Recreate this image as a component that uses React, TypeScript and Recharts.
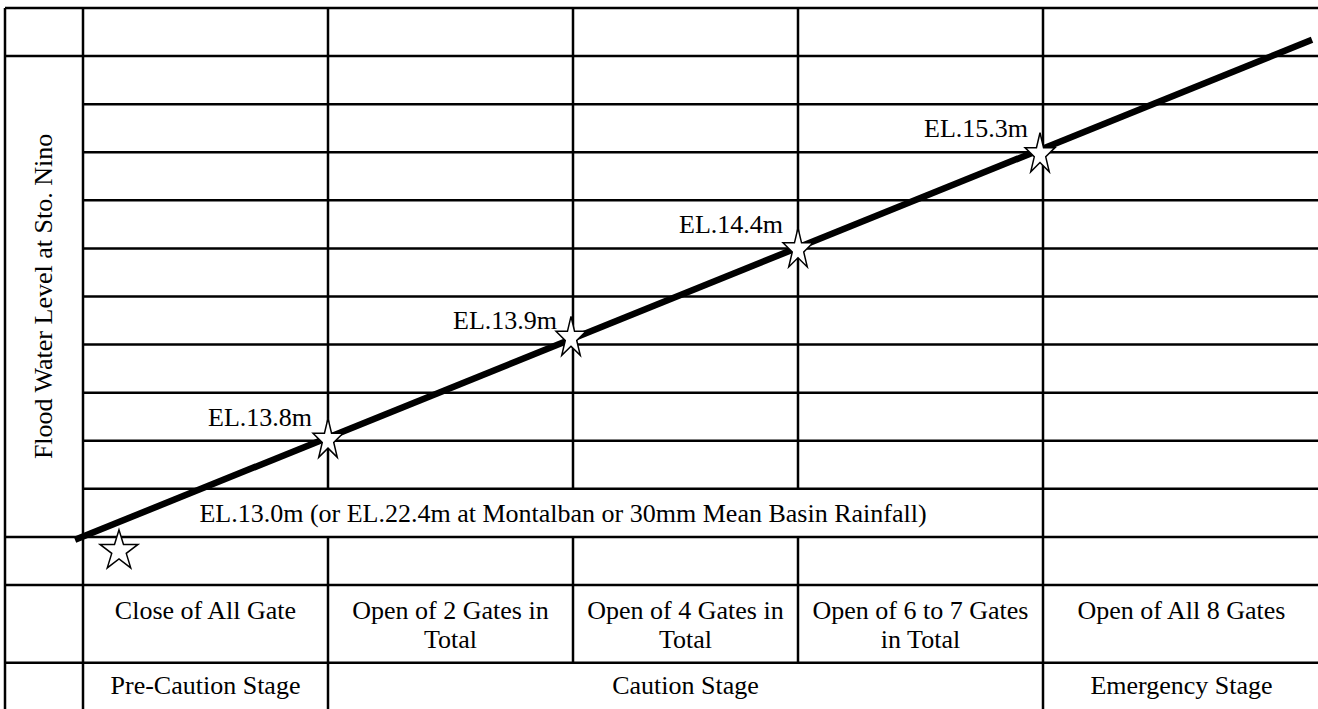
import React from 'react';
import { ComposedChart, XAxis, YAxis, Line, Scatter, ReferenceLine } from 'recharts';

// Schematic coordinates: x runs across the stage columns, y counts grid rows.
const leftEdge = -78;
const rightEdge = 1235;
const topLevel = 12;
const bottomLevel = -2.58;
const gateRowBottom = -1.62;
const stageEdges = [0, 245, 490, 715, 960, 1237];
const gridLevels = [0, 1, 2, 3, 4, 5, 6, 7, 8, 9, 10, 11, 12];
const fullWidthLevels = [0, 1, 11, 12];
const thresholdRowTop = 2;
const thresholdRowBottom = 1;

const gateActions = [
  ['Close of All Gate'],
  ['Open of 2 Gates in', 'Total'],
  ['Open of 4 Gates in', 'Total'],
  ['Open of 6 to 7 Gates', 'in Total'],
  ['Open of All 8 Gates'],
];
const stageNames = ['Pre-Caution Stage', 'Caution Stage', 'Emergency Stage'];
const stageFirstCol = [0, 1, 4];
const stageLastCol = [1, 4, 5];

const levelNames = ['EL.13.8m', 'EL.13.9m', 'EL.14.4m', 'EL.15.3m'];
const levelStarX = [245, 488, 715, 957];
const levelStarY = [3.06, 5.18, 7.02, 9.0];
const levelLabelX = [229, 474, 700, 945];
const levelLabelY = [3.31, 5.32, 7.32, 9.32];

const startStarX = [36];
const startStarY = [0.75];

const thresholdText = 'EL.13.0m (or EL.22.4m at Montalban or 30mm Mean Basin Rainfall)';
const thresholdX = [480];
const thresholdY = [1.31];

const trendX = [-8, 1229];
const trendY = [0.94, 11.34];

const axisTitle = 'Flood Water Level at Sto. Nino';
const axisTitleX = [-39];
const axisTitleY = [6];

const FONT = "'Liberation Serif', 'Times New Roman', Times, serif";
const FS = 26;
const RULE = 2.5;
const textStyle = { fontFamily: FONT, fontSize: FS } as React.CSSProperties;

const trendData = trendX.map((x, i) => ({ x, y: trendY[i] }));
const levelStars = levelStarX.map((x, i) => ({ x, y: levelStarY[i] }));
const startStars = startStarX.map((x, i) => ({ x, y: startStarY[i] }));
const levelLabels = levelLabelX.map((x, i) => ({ x, y: levelLabelY[i], text: levelNames[i] }));
const gateLabels = gateActions.map((lines, i) => ({
  x: (stageEdges[i] + stageEdges[i + 1]) / 2,
  y: 0,
  lines,
}));
const stageLabels = stageNames.map((text, i) => ({
  x: (stageEdges[stageFirstCol[i]] + stageEdges[stageLastCol[i]]) / 2,
  y: gateRowBottom,
  text,
}));
const thresholdLabels = thresholdX.map((x, i) => ({ x, y: thresholdY[i], text: thresholdText }));
const titleLabels = axisTitleX.map((x, i) => ({ x, y: axisTitleY[i], text: axisTitle }));

type Seg = [{ x: number; y: number }, { x: number; y: number }];
const segments: Seg[] = [];
gridLevels.forEach((lv) => {
  const from = fullWidthLevels.includes(lv) ? leftEdge : stageEdges[0];
  segments.push([{ x: from, y: lv }, { x: rightEdge, y: lv }]);
});
segments.push([{ x: leftEdge, y: gateRowBottom }, { x: rightEdge, y: gateRowBottom }]);
segments.push([{ x: leftEdge, y: topLevel }, { x: leftEdge, y: bottomLevel }]);
segments.push([{ x: stageEdges[0], y: topLevel }, { x: stageEdges[0], y: bottomLevel }]);
segments.push([{ x: stageEdges[4], y: topLevel }, { x: stageEdges[4], y: bottomLevel }]);
[1, 2, 3].forEach((c) => {
  segments.push([{ x: stageEdges[c], y: topLevel }, { x: stageEdges[c], y: thresholdRowTop }]);
  segments.push([
    { x: stageEdges[c], y: thresholdRowBottom },
    { x: stageEdges[c], y: c === 1 ? bottomLevel : gateRowBottom },
  ]);
});

function starPath(cx: number, cy: number, w: number, h: number) {
  const sx = w / 1.902;
  const sy = h / 1.809;
  const oy = (-1 + 0.809) / 2;
  let d = '';
  for (let k = 0; k < 10; k++) {
    const a = ((-90 + k * 36) * Math.PI) / 180;
    const r = k % 2 === 0 ? 1 : 0.382;
    const px = cx + Math.cos(a) * r * sx;
    const py = cy + (Math.sin(a) * r - oy) * sy;
    d += (k === 0 ? 'M' : 'L') + px.toFixed(2) + ',' + py.toFixed(2);
  }
  return d + 'Z';
}

const LevelStar = (p: any) => (
  <path d={starPath(p.cx, p.cy, 30, 39)} fill="#fff" stroke="#000" strokeWidth={1.5} strokeLinejoin="miter" />
);
const StartStar = (p: any) => (
  <path d={starPath(p.cx, p.cy, 38, 38)} fill="#fff" stroke="#000" strokeWidth={1.5} strokeLinejoin="miter" />
);
const LevelText = (p: any) => (
  <text x={p.cx} y={p.cy} textAnchor="end" style={textStyle} fill="#000">
    {p.payload.text}
  </text>
);
const CenterText = (p: any) => (
  <text x={p.cx} y={p.cy} textAnchor="middle" style={textStyle} fill="#000">
    {p.payload.text}
  </text>
);
const GateText = (p: any) => (
  <text x={p.cx} y={p.cy + 34} textAnchor="middle" style={textStyle} fill="#000">
    {p.payload.lines.map((l: string, i: number) => (
      <tspan key={i} x={p.cx} dy={i === 0 ? 0 : 29}>
        {l}
      </tspan>
    ))}
  </text>
);
const StageText = (p: any) => (
  <text x={p.cx} y={p.cy + 31} textAnchor="middle" style={textStyle} fill="#000">
    {p.payload.text}
  </text>
);
const TitleText = (p: any) => (
  <text
    transform={`translate(${p.cx + 8},${p.cy}) rotate(-90)`}
    x={0}
    y={0}
    textAnchor="middle"
    style={textStyle}
    fill="#000"
  >
    {p.payload.text}
  </text>
);

export default function App() {
  return (
    <div
      style={{
        position: 'absolute',
        left: 0,
        top: 0,
        width: 1318,
        height: 709,
        background: '#fff',
        fontFamily: FONT,
      }}
    >
      <ComposedChart
        width={1318}
        height={709}
        margin={{ top: 8, right: 0, bottom: 0, left: 5 }}
        style={{ fontFamily: FONT }}
      >
        <XAxis type="number" dataKey="x" domain={[leftEdge, rightEdge]} allowDataOverflow hide />
        <YAxis type="number" dataKey="y" domain={[bottomLevel, topLevel]} allowDataOverflow hide />
        {segments.map((s, i) => (
          <ReferenceLine key={i} segment={s} stroke="#000" strokeWidth={RULE} ifOverflow="visible" />
        ))}
        <Line
          data={trendData}
          dataKey="y"
          type="linear"
          stroke="#000"
          strokeWidth={6.5}
          strokeLinecap="butt"
          dot={false}
          activeDot={false}
          isAnimationActive={false}
        />
        <Scatter data={levelStars} shape={LevelStar} isAnimationActive={false} />
        <Scatter data={startStars} shape={StartStar} isAnimationActive={false} />
        <Scatter data={levelLabels} shape={LevelText} isAnimationActive={false} />
        <Scatter data={thresholdLabels} shape={CenterText} isAnimationActive={false} />
        <Scatter data={gateLabels} shape={GateText} isAnimationActive={false} />
        <Scatter data={stageLabels} shape={StageText} isAnimationActive={false} />
        <Scatter data={titleLabels} shape={TitleText} isAnimationActive={false} />
      </ComposedChart>
    </div>
  );
}
